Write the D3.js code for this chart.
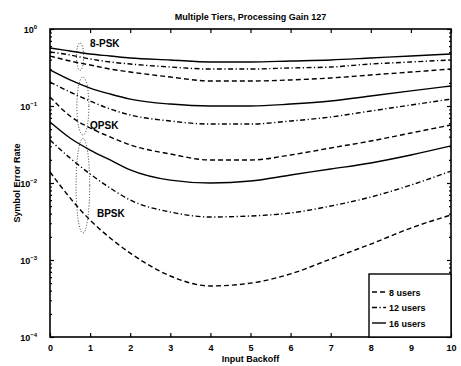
<!DOCTYPE html>
<html>
<head>
<meta charset="utf-8">
<title>Multiple Tiers, Processing Gain 127</title>
<style>
  body { margin: 0; background: #fff; }
  svg text { font-family: "Liberation Sans", Arial, sans-serif; font-weight: bold; fill: #000; }
</style>
</head>
<body>
<div id="chart"></div>
<script src="https://cdn.jsdelivr.net/npm/d3@7/dist/d3.min.js"></script>
<script>

// input backoff (x) samples
var backoff = [0, 0.5, 1, 1.5, 2, 3, 4, 5, 6, 7, 8, 9, 10];

// symbol error rate
var psk8_16 = [0.567, 0.518, 0.473, 0.446, 0.420, 0.396, 0.373, 0.373, 0.384, 0.396, 0.420, 0.446, 0.473];
var psk8_12 = [0.503, 0.460, 0.408, 0.373, 0.351, 0.321, 0.302, 0.302, 0.312, 0.321, 0.351, 0.373, 0.396];
var psk8_8  = [0.446, 0.384, 0.341, 0.302, 0.276, 0.238, 0.211, 0.211, 0.218, 0.231, 0.253, 0.276, 0.302];

var qpsk_16 = [0.294, 0.218, 0.171, 0.143, 0.123, 0.106, 0.100, 0.100, 0.106, 0.116, 0.135, 0.157, 0.182];
var qpsk_12 = [0.205, 0.152, 0.116, 0.0915, 0.0764, 0.0638, 0.0583, 0.0583, 0.0638, 0.0720, 0.0861, 0.103, 0.123];
var qpsk_8  = [0.131, 0.0741, 0.0518, 0.0396, 0.0312, 0.0238, 0.0199, 0.0199, 0.0231, 0.0285, 0.0351, 0.0446, 0.0567];

var bpsk_16 = [0.0620, 0.0384, 0.0268, 0.0199, 0.0148, 0.0109, 0.0100, 0.0106, 0.0127, 0.0152, 0.0182, 0.0231, 0.0303];
var bpsk_12 = [0.0362, 0.0211, 0.0131, 0.0086, 0.0060, 0.0042, 0.00362, 0.00373, 0.00408, 0.00502, 0.00658, 0.0094, 0.0143];
var bpsk_8  = [0.0139, 0.0064, 0.0033, 0.00193, 0.00123, 0.00062, 0.00046, 0.00050, 0.00066, 0.00103, 0.00161, 0.0026, 0.00384];

var xTicks = [0, 1, 2, 3, 4, 5, 6, 7, 8, 9, 10];
var yExponents = [0, -1, -2, -3, -4];
var userCounts = [8, 12, 16];
var legendLabels = ["8 users", "12 users", "16 users"];

// modulation annotations (dotted ellipses + labels), in data units
var modLabels = ["8-PSK", "QPSK", "BPSK"];
var labelX = [1.0, 1.0, 1.17];
var labelY = [0.66, 0.056, 0.0041];
var ellipseX = [0.75, 0.82, 0.82];
var ellipseTop = [0.66, 0.238, 0.038];
var ellipseBottom = [0.29, 0.042, 0.00224];
var ellipseHalfW = [0.09, 0.15, 0.17];

var series = [
  { users: 16, values: psk8_16 }, { users: 12, values: psk8_12 }, { users: 8, values: psk8_8 },
  { users: 16, values: qpsk_16 }, { users: 12, values: qpsk_12 }, { users: 8, values: qpsk_8 },
  { users: 16, values: bpsk_16 }, { users: 12, values: bpsk_12 }, { users: 8, values: bpsk_8 }
];

var dashFor = { 8: "5,3", 12: "5,2.5,1.2,2.5", 16: null };

var width = 461, height = 366;
var margin = { top: 29, right: 10, bottom: 29, left: 50 };

var svg = d3.select('#chart')
            .append('svg')
            .attr('width', width)
            .attr('height', height);

var x = d3.scaleLinear().domain([0, 10]).range([margin.left, width - margin.right]);
var y = d3.scaleLog().domain([1e-4, 1]).range([height - margin.bottom, margin.top]);

var line = d3.line()
  .x(function(d, i){ return x(backoff[i]); })
  .y(function(d){ return y(d); })
  .curve(d3.curveMonotoneX);

// curves
svg.append('g').selectAll('path')
  .data(series)
  .enter().append('path')
    .attr('d', function(d){ return line(d.values); })
    .attr('fill', 'none')
    .attr('stroke', '#000')
    .attr('stroke-width', 1.4)
    .attr('stroke-dasharray', function(d){ return dashFor[d.users]; });

// axes - ticks point inward on all four sides
var yMinor = [];
yExponents.forEach(function(e){
  if (e === 0) return;
  for (var k = 2; k <= 9; k++) yMinor.push(k * Math.pow(10, e));
});
var yMajor = yExponents.map(function(e){ return Math.pow(10, e); });

function styleAxis(g){
  g.select('.domain').remove();
  g.selectAll('line').attr('stroke', '#000').attr('stroke-width', 1.2);
}

svg.append('g')
  .attr('transform', 'translate(0,' + y(1e-4) + ')')
  .call(d3.axisBottom(x).tickValues(xTicks).tickSize(-4).tickPadding(6).tickFormat(d3.format('d')))
  .call(styleAxis)
  .selectAll('text').attr('font-size', 9).attr('dy', '0.9em');

svg.append('g')
  .attr('transform', 'translate(0,' + y(1) + ')')
  .call(d3.axisTop(x).tickValues(xTicks).tickSize(-4).tickFormat(''))
  .call(styleAxis);

var left = svg.append('g')
  .attr('transform', 'translate(' + x(0) + ',0)')
  .call(d3.axisLeft(y).tickValues(yMajor).tickSize(-4).tickPadding(7).tickFormat(''))
  .call(styleAxis);

svg.append('g')
  .attr('transform', 'translate(' + x(0) + ',0)')
  .call(d3.axisLeft(y).tickValues(yMinor).tickSize(-2).tickFormat(''))
  .call(styleAxis);

svg.append('g')
  .attr('transform', 'translate(' + x(10) + ',0)')
  .call(d3.axisRight(y).tickValues(yMajor).tickSize(-4).tickFormat(''))
  .call(styleAxis);

svg.append('g')
  .attr('transform', 'translate(' + x(10) + ',0)')
  .call(d3.axisRight(y).tickValues(yMinor).tickSize(-2).tickFormat(''))
  .call(styleAxis);

// y tick labels as 10 with superscript exponent
var yl = svg.append('g').selectAll('text')
  .data(yExponents)
  .enter().append('text')
    .attr('x', x(0) - 13)
    .attr('y', function(e){ return y(Math.pow(10, e)) + 4; })
    .attr('text-anchor', 'end')
    .attr('font-size', 9);
yl.append('tspan').text('10');
yl.append('tspan')
  .attr('dy', -4)
  .attr('font-size', 6)
  .text(function(e){ return e === 0 ? '0' : '\u2212' + (-e); });

// frame
svg.append('rect')
  .attr('x', x(0)).attr('y', y(1))
  .attr('width', x(10) - x(0))
  .attr('height', y(1e-4) - y(1))
  .attr('fill', 'none')
  .attr('stroke', '#000')
  .attr('stroke-width', 1.6);

// dotted ellipses marking modulation groups
svg.append('g').selectAll('ellipse')
  .data(modLabels)
  .enter().append('ellipse')
    .attr('cx', function(d, i){ return x(ellipseX[i]); })
    .attr('cy', function(d, i){ return (y(ellipseTop[i]) + y(ellipseBottom[i])) / 2; })
    .attr('rx', function(d, i){ return x(ellipseHalfW[i]) - x(0); })
    .attr('ry', function(d, i){ return (y(ellipseBottom[i]) - y(ellipseTop[i])) / 2; })
    .attr('fill', 'none')
    .attr('stroke', '#000')
    .attr('stroke-width', 0.8)
    .attr('stroke-dasharray', '1,1.8');

svg.append('g').selectAll('text')
  .data(modLabels)
  .enter().append('text')
    .attr('x', function(d, i){ return x(labelX[i]); })
    .attr('y', function(d, i){ return y(labelY[i]) + 4; })
    .attr('font-size', 10)
    .text(function(d){ return d; });

// titles
svg.append('text')
  .attr('x', (x(0) + x(10)) / 2)
  .attr('y', 20)
  .attr('text-anchor', 'middle')
  .attr('font-size', 9)
  .text('Multiple Tiers, Processing Gain 127');

svg.append('text')
  .attr('x', (x(0) + x(10)) / 2)
  .attr('y', 362)
  .attr('text-anchor', 'middle')
  .attr('font-size', 9)
  .text('Input Backoff');

svg.append('text')
  .attr('transform', 'translate(20,' + (y(1) + y(1e-4)) / 2 + ') rotate(-90)')
  .attr('text-anchor', 'middle')
  .attr('font-size', 9)
  .text('Symbol Error Rate');

// legend
var lgX = 369, lgY = 274, lgW = x(10) - 369, lgH = y(1e-4) - 274;
svg.append('rect')
  .attr('x', lgX).attr('y', lgY)
  .attr('width', lgW).attr('height', lgH)
  .attr('fill', '#fff')
  .attr('stroke', '#000')
  .attr('stroke-width', 1.4);

var lg = svg.append('g').selectAll('g')
  .data(userCounts)
  .enter().append('g')
    .attr('transform', function(d, i){ return 'translate(' + lgX + ',' + (292 + i * 15.5) + ')'; });

lg.append('line')
  .attr('x1', 3).attr('x2', 17)
  .attr('stroke', '#000')
  .attr('stroke-width', 1.4)
  .attr('stroke-dasharray', function(d){ return dashFor[d]; });

lg.append('text')
  .attr('x', 20)
  .attr('y', 3.5)
  .attr('font-size', 9)
  .text(function(d, i){ return legendLabels[i]; });

</script>
</body>
</html>
